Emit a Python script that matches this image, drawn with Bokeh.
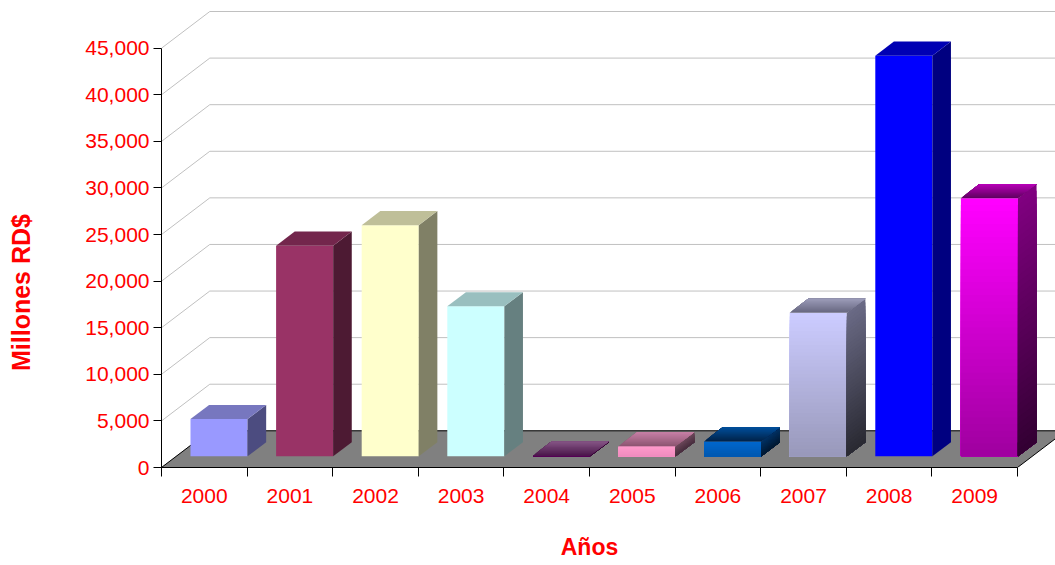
import numpy as np
from bokeh.plotting import figure
from bokeh.models import Range1d, FixedTicker, NumeralTickFormatter, LinearAxis
from bokeh.embed import file_html
from bokeh.resources import INLINE

# ---------------- data ----------------
years = ["2000", "2001", "2002", "2003", "2004", "2005", "2006", "2007", "2008", "2009"]
values = [4000, 22600, 24800, 16100, 60, 1070, 1600, 15400, 43000, 27700]
y_ticks = [0, 5000, 10000, 15000, 20000, 25000, 30000, 35000, 40000, 45000]
x_title = "Años"
y_title = "Millones RD$"

# face colours (gradient end points)
front_top = ["#9999FF", "#993366", "#FFFFCC", "#CCFFFF", "#660066", "#FF9ACB", "#0068CE", "#CCCCFF", "#0000FF", "#FF00FF"]
front_bot = ["#9999FF", "#993366", "#FFFFCC", "#CCFFFF", "#4C004C", "#F08CBE", "#0058B0", "#9999BB", "#0000FF", "#A000A0"]
top_back = ["#7777BF", "#73264C", "#BFBF99", "#99BFBF", "#855585", "#C880A6", "#004F9C", "#9C9CBA", "#0000B3", "#B800B8"]
top_front = ["#7777BF", "#73264C", "#BFBF99", "#99BFBF", "#4A164A", "#8A5470", "#002248", "#66667E", "#0000B3", "#5E005E"]
side_top = ["#4C4C80", "#4D1A33", "#808066", "#668080", "#4C1A4C", "#6E4A5C", "#003366", "#6A6A85", "#000080", "#800080"]
side_bot = ["#4C4C80", "#4D1A33", "#808066", "#668080", "#330033", "#4A3040", "#001A33", "#2A2A33", "#000080", "#330033"]

# ---------------- geometry (3-D projection) ----------------
PX_PER_CAT = 85.6
PX_PER_VAL = 419.3 / 45000.0
DX = 48.3 / PX_PER_CAT          # depth offset in category units
DY = 36.7 / PX_PER_VAL          # depth offset in value units
D0, D1 = 0.305, 0.69            # bar depth span (fraction of floor depth)
BAR_W = 1 / 1.5                 # gap width 50%
GAP = (1 - BAR_W) / 2

W, H = 1055, 565
BL, BB = 161, 98
x_end = (W - BL) / PX_PER_CAT
y_end = (H - BB) / PX_PER_VAL

p = figure(width=W, height=H, output_backend="svg", toolbar_location=None,
           x_range=Range1d(0, x_end), y_range=Range1d(0, y_end),
           min_border_left=BL, min_border_right=0, min_border_top=0, min_border_bottom=BB)
p.outline_line_color = None
p.xgrid.visible = False
p.ygrid.visible = False
p.background_fill_color = "white"
p.border_fill_color = "white"

# gridlines on side and back wall
gx = [[0, DX, x_end + 1] for t in y_ticks]
gy = [[t, t + DY, t + DY] for t in y_ticks]
p.multi_line(gx, gy, line_color="#C0C0C0", line_width=1)

# floor
n = len(years)
p.patch([0, n, n + DX, DX], [0, 0, DY, DY], fill_color="#808080",
        line_color="black", line_width=1)


def hx(c):
    c = c.lstrip("#")
    return np.array([int(c[i:i + 2], 16) for i in (0, 2, 4)], dtype=float)


def lerp(c1, c2, t):
    a, b = hx(c1), hx(c2)
    r = a + (b - a) * t
    return "#%02X%02X%02X" % tuple(int(round(v)) for v in r)


fq_l, fq_r, fq_t, fq_b, fq_c = [], [], [], [], []
px, py, pc = [], [], []
bd = D1 - D0
for i, v in enumerate(values):
    x0 = i + GAP + D0 * DX
    x1 = x0 + BAR_W
    y0 = D0 * DY
    y1 = y0 + v
    N = 40 if front_top[i] != front_bot[i] else 1
    # front face: overlapping strips (each reaches the bottom, later ones cover lower part)
    for k in range(N):
        ya = y1 - v * k / N
        fq_l.append(x0); fq_r.append(x1); fq_t.append(ya); fq_b.append(y0)
        fq_c.append(lerp(front_top[i], front_bot[i], k / max(N - 1, 1)))
    # side face
    N = 40 if side_top[i] != side_bot[i] else 1
    for k in range(N):
        ya = y1 - v * k / N
        px.append([x1, x1 + bd * DX, x1 + bd * DX, x1])
        py.append([ya, ya + bd * DY, y0 + bd * DY, y0])
        pc.append(lerp(side_top[i], side_bot[i], k / max(N - 1, 1)))
    # top face (front -> back)
    M = 16 if top_front[i] != top_back[i] else 1
    for k in range(M):
        a = bd * k / M
        px.append([x0 + a * DX, x1 + a * DX, x1 + bd * DX, x0 + bd * DX])
        py.append([y1 + a * DY, y1 + a * DY, y1 + bd * DY, y1 + bd * DY])
        pc.append(lerp(top_front[i], top_back[i], (k + 0.5) / M if M > 1 else 0))

p.quad(left=fq_l, right=fq_r, top=fq_t, bottom=fq_b, fill_color=fq_c, line_color=None)
p.patches(px, py, fill_color=pc, line_color=None)

# ---------------- axes ----------------
yax = p.yaxis[0]
yax.ticker = FixedTicker(ticks=y_ticks)
yax.formatter = NumeralTickFormatter(format="0,0")
yax.bounds = (0, 45000)
yax.axis_line_color = "black"
yax.major_tick_out = 8
yax.major_tick_in = 0
yax.minor_tick_line_color = None
yax.major_label_standoff = 4
yax.major_label_text_color = "#FF0000"
yax.major_label_text_font = "Liberation Sans"
yax.major_label_text_font_size = "21px"

xax = p.xaxis[0]
xax.ticker = FixedTicker(ticks=[i + 0.5 for i in range(n)], minor_ticks=list(range(n + 1)))
xax.major_label_overrides = {i + 0.5: years[i] for i in range(n)}
xax.bounds = (0, n)
xax.axis_line_color = "black"
xax.major_tick_line_color = None
xax.major_tick_out = 0
xax.major_tick_in = 0
xax.minor_tick_line_color = "black"
xax.minor_tick_out = 9
xax.minor_tick_in = 0
xax.major_label_standoff = 12
xax.major_label_text_color = "#FF0000"
xax.major_label_text_font = "Liberation Sans"
xax.major_label_text_font_size = "21px"

# axis titles, drawn as single-label axes so they sit outside the frame
xt_pos = 5.0
xt = LinearAxis(ticker=FixedTicker(ticks=[xt_pos]), major_label_overrides={xt_pos: x_title},
                axis_line_color=None, major_tick_line_color=None, minor_tick_line_color=None,
                major_label_standoff=22, major_label_text_color="#FF0000",
                major_label_text_font="Liberation Sans", major_label_text_font_style="bold",
                major_label_text_font_size="23px")
p.add_layout(xt, "below")

yt_pos = 18780.0
yt = LinearAxis(ticker=FixedTicker(ticks=[yt_pos]), major_label_overrides={yt_pos: y_title},
                axis_line_color=None, major_tick_line_color=None, minor_tick_line_color=None,
                major_label_orientation="vertical", major_label_standoff=41,
                major_label_text_color="#FF0000",
                major_label_text_font="Liberation Sans", major_label_text_font_style="bold",
                major_label_text_font_size="25px")
p.add_layout(yt, "left")

open("out.html", "w").write(file_html(p, INLINE))
